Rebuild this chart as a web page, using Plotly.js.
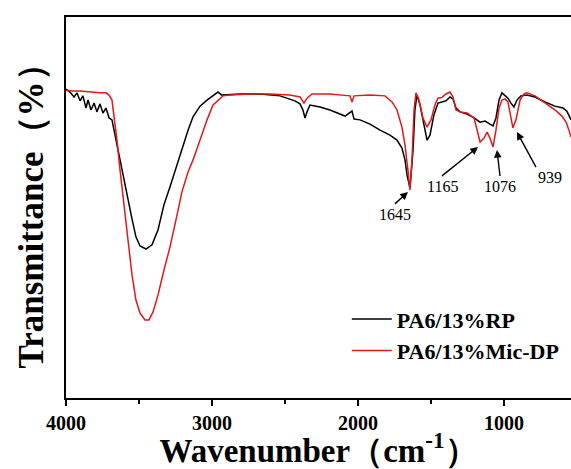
<!DOCTYPE html>
<html>
<head>
<meta charset="utf-8">
<script src="https://cdn.plot.ly/plotly-3.0.1.min.js"></script>
<style>html,body{margin:0;padding:0;background:#fff;}#chart{width:571px;height:469px;}</style>
</head>
<body>
<div id="chart"></div>
<script>
// PA6/13%RP (black)
const wnRP = [4000,3973,3945,3925,3904,3884,3863,3849,3829,3808,3788,3767,3747,3726,3705,3685,3671,3651,3630,3603,3575,3548,3521,3493,3452,3411,3370,3329,3288,3247,3206,3164,3130,3082,3034,2993,2959,2932,2808,2671,2534,2432,2397,2377,2363,2349,2329,2260,2192,2089,2062,2041,2027,1986,1918,1849,1781,1733,1699,1678,1664,1644,1623,1610,1596,1575,1548,1527,1507,1480,1452,1425,1397,1370,1349,1329,1301,1253,1205,1164,1130,1096,1075,1055,1034,1014,993,973,952,932,911,884,842,788,719,651,596,569,541];
const tRP = [81.1,80.3,79.0,80.1,78.0,79.3,76.1,78.2,75.6,77.4,75.1,77.2,74.8,76.1,73.5,73.0,70.3,66.4,62.5,57.2,52.0,47.0,42.3,39.9,39.1,40.2,44.1,50.7,55.4,60.4,65.6,70.3,73.8,76.6,78.2,79.3,80.3,79.5,79.8,79.8,79.3,78.0,77.2,75.6,73.5,75.1,76.9,76.4,75.6,74.0,74.8,75.3,73.2,73.0,71.9,70.3,69.0,67.7,65.6,62.5,58.5,55.1,65.1,75.6,79.5,76.9,71.7,67.7,69.0,74.3,77.4,77.7,78.0,79.0,78.5,76.1,75.1,74.5,73.5,72.4,72.7,71.9,71.4,73.5,78.2,80.1,79.3,78.7,77.4,76.4,78.2,79.3,79.5,79.0,77.7,76.6,76.1,75.3,73.0];

// PA6/13%Mic-DP (red)
const wnMic = [4000,3959,3904,3836,3767,3726,3705,3685,3671,3651,3630,3603,3575,3548,3521,3493,3459,3432,3404,3370,3329,3288,3247,3206,3164,3130,3082,3034,2993,2959,2925,2877,2740,2603,2466,2397,2370,2349,2315,2192,2055,2041,2027,1918,1815,1767,1733,1699,1678,1658,1644,1630,1616,1603,1582,1555,1527,1500,1473,1452,1425,1397,1370,1349,1329,1301,1253,1205,1178,1164,1137,1116,1096,1075,1055,1034,1014,993,973,952,939,918,890,863,842,788,719,651,603,575,555,541];
const tMic = [80.8,80.6,80.6,80.3,80.1,80.1,79.5,78.2,74.3,67.7,59.8,50.7,41.5,32.3,25.7,22.3,20.5,20.5,22.6,27.0,33.6,39.6,46.7,54.1,59.3,62.5,67.7,73.0,76.9,78.2,79.3,79.5,79.8,79.8,79.5,79.0,77.4,78.7,79.8,79.8,79.3,77.7,79.3,79.5,79.3,77.7,75.6,71.1,66.4,59.8,54.6,62.5,75.6,80.1,78.2,73.5,71.1,73.0,76.9,78.7,78.9,79.8,80.3,79.0,75.6,75.1,74.8,73.5,69.8,67.2,68.2,69.8,68.2,65.9,70.3,76.1,78.2,78.5,77.7,73.5,70.9,73.0,78.2,79.8,80.1,79.3,77.4,75.6,74.0,72.4,70.3,68.5];

const seriesNames = ['PA6/13%RP', 'PA6/13%Mic-DP'];
const xTickVals = [4000, 3000, 2000, 1000];
const xTickText = ['4000', '3000', '2000', '1000'];

// peak labels: text, arrow head (wavenumber, T), arrow tail offset in px
const peakLabels = ['1645', '1165', '1076', '939'];
const peakHeadWn = [1658, 1178, 1048, 911];
const peakHeadT = [54.1, 65.9, 65.1, 69.8];
const peakTail = [[-13, 12], [-36, 29], [3, 26], [19, 35]];
const peakXAnchor = ['center', 'center', 'center', 'left'];

const serif = 'Liberation Serif, Times New Roman, serif';

const traces = [
  {x: wnRP, y: tRP, type: 'scatter', mode: 'lines', name: seriesNames[0],
   line: {color: '#000000', width: 1.5}},
  {x: wnMic, y: tMic, type: 'scatter', mode: 'lines', name: seriesNames[1],
   line: {color: '#e0191b', width: 1.5}}
];

const annotations = peakLabels.map((lab, i) => ({
  x: peakHeadWn[i], y: peakHeadT[i], xref: 'x', yref: 'y',
  text: lab, showarrow: true, ax: peakTail[i][0], ay: peakTail[i][1],
  xanchor: peakXAnchor[i], yanchor: 'top',
  arrowhead: 2, arrowsize: 1.1, arrowwidth: 1.4, arrowcolor: '#000', standoff: 0,
  font: {family: serif, size: 16, color: '#000'}
}));

const layout = {
  width: 571, height: 469,
  margin: {l: 66, r: 0, t: 17, b: 71},
  paper_bgcolor: '#fff', plot_bgcolor: '#fff',
  showlegend: true,
  legend: {x: 0.556, y: 0.262, xanchor: 'left', yanchor: 'top',
    font: {family: serif, size: 22, color: '#000', weight: 'bold'},
    bgcolor: 'rgba(0,0,0,0)', itemwidth: 40, tracegroupgap: 0},
  xaxis: {
    range: [4000, 541], tickvals: xTickVals, ticktext: xTickText,
    ticks: 'outside', ticklen: 6, tickwidth: 1.5, tickcolor: '#000',
    minor: {dtick: 500, ticks: 'outside', ticklen: 4, tickwidth: 1.5, tickcolor: '#000'},
    showline: true, mirror: true, linecolor: '#000', linewidth: 2,
    showgrid: false, zeroline: false,
    tickfont: {family: serif, size: 20, color: '#000', weight: 'bold'},
    title: {text: 'Wavenumber（cm<sup>-1</sup>）', standoff: 9,
      font: {family: serif, size: 33, color: '#000', weight: 'bold'}}
  },
  yaxis: {
    range: [0, 100], showticklabels: false, ticks: '',
    showline: true, linecolor: '#000', linewidth: 2,
    showgrid: false, zeroline: false,
    title: {text: 'Transmittance（%）', standoff: 10,
      font: {family: serif, size: 35, color: '#000', weight: 'bold'}}
  },
  annotations: annotations
};

Plotly.newPlot('chart', traces, layout, {displayModeBar: false, staticPlot: true});
</script>
</body>
</html>
